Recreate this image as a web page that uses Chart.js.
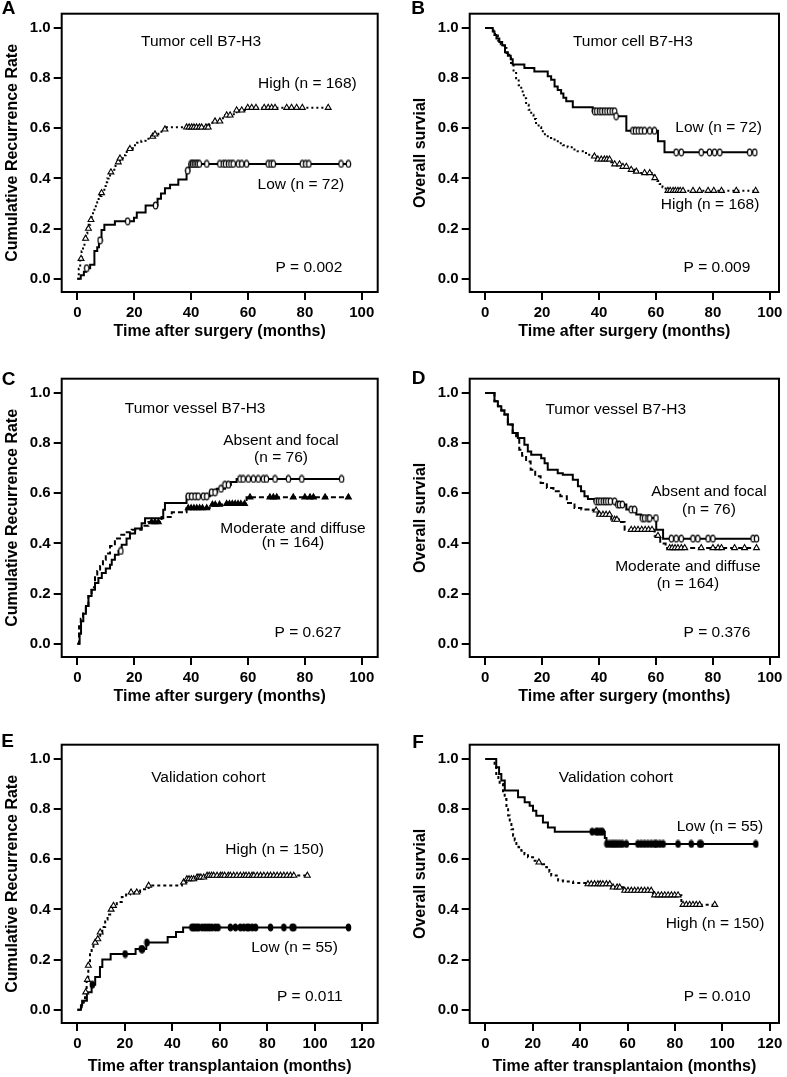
<!DOCTYPE html>
<html>
<head>
<meta charset="utf-8">
<script src="https://cdn.jsdelivr.net/npm/chart.js@4.4.1/dist/chart.umd.min.js"></script>
<style>
  html, body { margin: 0; padding: 0; background: #fff; }
  #wrap { position: relative; width: 787px; height: 1077px; overflow: hidden; background: #fff; }
  #wrap canvas { position: absolute; }
</style>
</head>
<body>
<div id="wrap">
  <canvas id="pA" width="393" height="365" style="left:0;top:0"></canvas>
  <canvas id="pB" width="394" height="365" style="left:393px;top:0"></canvas>
  <canvas id="pC" width="393" height="366" style="left:0;top:365px"></canvas>
  <canvas id="pD" width="394" height="366" style="left:393px;top:365px"></canvas>
  <canvas id="pE" width="393" height="346" style="left:0;top:731px"></canvas>
  <canvas id="pF" width="394" height="346" style="left:393px;top:731px"></canvas>
</div>
<script>
'use strict';

const FONT = '"Liberation Sans", Arial, Helvetica, sans-serif';

// ─── A: tumor cell B7-H3, cumulative recurrence ───
const aLowTime   = [0, 1.2, 2.3, 3.0, 4.5, 6.0, 7.0, 7.6, 8.5, 9.5, 13.2, 19.9, 20.9, 24.0, 28.2, 29.4, 30.8, 32.6, 35.5, 38.4, 39.4];
const aLowRate   = [0, 0.014, 0.028, 0.042, 0.056, 0.111, 0.125, 0.153, 0.194, 0.215, 0.229, 0.243, 0.264, 0.292, 0.319, 0.340, 0.361, 0.375, 0.396, 0.431, 0.458];
const aLowCensor = [3.3, 8.0, 17.7, 27.5, 38.8, 40.0, 40.5, 41.1, 41.7, 42.3, 42.9, 45.5, 50.1, 51.3, 52.1, 53.1, 54.0, 54.8, 56.6, 57.8, 59.5, 67.1, 68.1, 68.9, 79.1, 80.3, 81.4, 92.7, 95.3];
const aHighTime  = [0, 0.5, 1.0, 1.5, 2.0, 2.5, 3.0, 3.5, 4.0, 4.5, 5.0, 5.5, 6.0, 6.5, 7.0, 7.5, 8.0, 8.5, 9.0, 9.5, 10.0, 10.5, 11.0, 11.5, 12.0, 13.0, 14.0, 15.0, 16.0, 17.0, 18.0, 19.5, 21.0, 22.5, 24.0, 25.5, 27.0, 28.5, 30.0, 31.0, 46.5, 47.5, 50.5, 52.0, 55.0, 56.0, 59.5];
const aHighRate  = [0, 0.04, 0.08, 0.11, 0.135, 0.16, 0.18, 0.20, 0.215, 0.235, 0.255, 0.27, 0.285, 0.295, 0.305, 0.318, 0.33, 0.342, 0.355, 0.37, 0.385, 0.40, 0.412, 0.425, 0.435, 0.45, 0.465, 0.48, 0.492, 0.505, 0.518, 0.532, 0.542, 0.55, 0.558, 0.567, 0.576, 0.586, 0.596, 0.604, 0.616, 0.628, 0.64, 0.652, 0.664, 0.672, 0.682];
const aHighCensor = [1.3, 2.9, 3.9, 4.8, 8.5, 11.8, 14.4, 15.0, 18.5, 26.5, 27.3, 30.8, 38.4, 39.3, 40.2, 41.0, 41.9, 42.9, 43.7, 45.2, 46.0, 48.4, 50.1, 52.5, 53.7, 56.0, 57.8, 59.9, 61.3, 62.8, 65.7, 67.1, 68.3, 69.5, 73.6, 75.3, 77.1, 79.1, 88.2];

// ─── B: tumor cell B7-H3, overall survival ───
const bLowTime   = [0, 2.7, 3.3, 4.0, 5.0, 6.0, 7.0, 8.0, 9.0, 9.7, 13.8, 17.3, 22.0, 23.2, 24.4, 25.5, 26.7, 27.5, 28.5, 30.8, 37.8, 45.8, 49.6, 60.7, 63.0];
const bLowSurv   = [1.0, 0.986, 0.972, 0.958, 0.944, 0.931, 0.903, 0.889, 0.875, 0.854, 0.840, 0.826, 0.808, 0.794, 0.767, 0.753, 0.739, 0.722, 0.708, 0.684, 0.668, 0.648, 0.590, 0.548, 0.504];
const bLowCensor = [38.4, 39.2, 40.2, 41.0, 41.9, 42.8, 43.7, 44.6, 45.5, 46.0, 51.9, 52.8, 53.8, 54.8, 56.0, 57.8, 59.5, 67.1, 68.9, 75.9, 78.8, 80.6, 82.4, 92.9, 94.7];
const bHighTime  = [0, 2.5, 3.5, 4.5, 5.5, 6.5, 7.5, 8.5, 9.1, 10.0, 10.9, 11.8, 12.7, 13.6, 14.4, 15.3, 16.2, 17.0, 17.9, 18.8, 19.7, 21.0, 22.0, 23.2, 24.4, 26.0, 27.3, 29.0, 30.8, 32.5, 34.3, 36.0, 37.8, 39.0, 44.3, 45.5, 48.0, 51.3, 53.0, 54.8, 58.5, 59.5, 60.5, 61.3, 62.3, 63.4];
const bHighSurv  = [1.0, 0.99, 0.97, 0.95, 0.935, 0.92, 0.90, 0.88, 0.86, 0.83, 0.80, 0.772, 0.747, 0.72, 0.694, 0.674, 0.654, 0.637, 0.621, 0.604, 0.588, 0.572, 0.561, 0.555, 0.548, 0.540, 0.532, 0.524, 0.515, 0.508, 0.501, 0.494, 0.488, 0.476, 0.465, 0.457, 0.447, 0.435, 0.428, 0.422, 0.412, 0.402, 0.39, 0.378, 0.365, 0.351];
const bHighCensor = [38.4, 39.6, 40.8, 41.9, 42.8, 43.7, 45.5, 47.2, 48.4, 49.6, 51.3, 53.1, 56.0, 57.8, 59.6, 64.2, 65.0, 66.0, 66.8, 67.7, 68.5, 69.5, 73.0, 75.3, 78.3, 80.3, 83.0, 88.2, 95.0];

// ─── C: tumor vessel B7-H3, cumulative recurrence ───
const cAbsTime   = [0, 0.8, 1.3, 2.1, 3.0, 3.9, 5.0, 6.2, 7.4, 8.6, 10.0, 11.5, 12.1, 13.2, 14.5, 15.6, 17.3, 18.5, 20.3, 22.6, 23.8, 30.2, 30.8, 38.4, 46.6, 49.0, 51.9, 54.0, 56.0];
const cAbsRate   = [0, 0.04, 0.09, 0.12, 0.15, 0.19, 0.215, 0.242, 0.262, 0.282, 0.30, 0.315, 0.335, 0.355, 0.37, 0.395, 0.42, 0.44, 0.46, 0.48, 0.50, 0.534, 0.561, 0.588, 0.604, 0.618, 0.634, 0.645, 0.657];
const cAbsCensor = [15.3, 39.0, 40.2, 41.4, 42.5, 44.3, 45.5, 47.2, 48.4, 50.5, 51.9, 53.1, 57.2, 58.3, 60.1, 61.9, 63.6, 65.4, 66.5, 69.5, 74.2, 78.9, 92.9];
const cModTime   = [0, 0.6, 1.2, 2.0, 3.0, 3.9, 5.0, 6.2, 7.0, 8.0, 9.0, 10.0, 11.5, 13.2, 15.0, 17.0, 19.1, 22.6, 25.0, 29.6, 33.2, 38.4, 47.2, 51.9, 59.5];
const cModRate   = [0, 0.07, 0.10, 0.125, 0.15, 0.19, 0.225, 0.27, 0.29, 0.31, 0.335, 0.36, 0.39, 0.42, 0.435, 0.445, 0.455, 0.47, 0.485, 0.505, 0.524, 0.541, 0.555, 0.558, 0.584];
const cModCensor = [26.1, 27.3, 28.5, 39.0, 40.0, 41.0, 42.0, 43.0, 44.0, 45.5, 47.5, 48.5, 50.0, 52.5, 53.5, 54.5, 55.5, 56.5, 57.5, 58.8, 60.7, 67.7, 68.9, 70.1, 75.9, 80.0, 81.8, 83.0, 87.1, 95.3];

// ─── D: tumor vessel B7-H3, overall survival ───
const dAbsTime   = [0, 3.3, 4.5, 5.7, 6.8, 8.0, 9.7, 11.5, 13.8, 15.0, 16.2, 19.7, 20.9, 22.0, 25.5, 27.3, 30.8, 32.6, 33.7, 34.9, 36.1, 38.4, 46.0, 49.6, 53.1, 54.8, 60.1, 62.5];
const dAbsSurv   = [1.0, 0.967, 0.947, 0.93, 0.914, 0.874, 0.84, 0.82, 0.794, 0.767, 0.754, 0.74, 0.72, 0.694, 0.68, 0.674, 0.654, 0.628, 0.608, 0.588, 0.577, 0.568, 0.555, 0.535, 0.515, 0.501, 0.455, 0.419];
const dAbsCensor = [39.0, 39.8, 40.6, 41.5, 42.3, 43.1, 44.0, 45.5, 46.6, 47.2, 48.2, 51.3, 52.5, 55.2, 56.0, 57.2, 57.8, 60.0, 65.4, 67.1, 68.9, 73.0, 74.7, 78.3, 80.0, 94.1, 95.3];
const dModTime   = [0, 3.3, 4.5, 5.7, 6.8, 8.0, 9.7, 10.9, 12.0, 13.0, 14.4, 16.0, 17.6, 19.5, 21.7, 24.0, 26.4, 28.7, 31.4, 33.8, 37.8, 39.5, 44.3, 47.0, 49.0, 59.5, 61.5, 63.4];
const dModSurv   = [1.0, 0.967, 0.947, 0.93, 0.914, 0.874, 0.84, 0.827, 0.774, 0.75, 0.727, 0.694, 0.668, 0.641, 0.621, 0.608, 0.588, 0.561, 0.541, 0.535, 0.532, 0.515, 0.495, 0.485, 0.455, 0.431, 0.40, 0.382];
const dModCensor = [39.0, 40.2, 41.4, 42.5, 43.7, 45.5, 46.3, 51.3, 52.5, 53.7, 55.0, 56.2, 57.4, 58.6, 60.7, 64.8, 65.7, 66.7, 67.7, 68.9, 70.1, 75.9, 80.0, 81.8, 83.0, 87.6, 91.1, 95.3];

// ─── E: validation cohort, cumulative recurrence ───
const eLowTime   = [0, 1.5, 2.0, 4.0, 6.0, 7.5, 9.5, 10.5, 14.0, 24.5, 29.0, 38.0, 41.5, 44.5];
const eLowRate   = [0, 0.018, 0.036, 0.07, 0.10, 0.13, 0.17, 0.20, 0.222, 0.242, 0.268, 0.29, 0.31, 0.328];
const eLowCensor = [6.3, 20.1, 26.9, 27.4, 29.3, 48.2, 48.9, 49.6, 50.4, 51.1, 52.5, 53.6, 54.6, 55.6, 56.7, 58.1, 59.2, 64.4, 66.5, 68.6, 70.0, 71.4, 72.2, 73.6, 75.0, 81.3, 86.9, 90.4, 91.1, 114.1];
const eHighTime  = [0, 1.0, 1.8, 2.5, 3.2, 3.9, 4.6, 5.3, 6.0, 6.75, 7.5, 8.2, 9.0, 9.6, 10.5, 11.7, 12.7, 13.8, 15.2, 16.6, 18.7, 20.5, 22.2, 26.4, 30.0, 44.0, 46.1, 49.6, 53.9];
const eHighRate  = [0, 0.01, 0.02, 0.03, 0.07, 0.12, 0.176, 0.229, 0.245, 0.255, 0.268, 0.282, 0.295, 0.309, 0.33, 0.36, 0.38, 0.40, 0.415, 0.43, 0.45, 0.46, 0.468, 0.48, 0.495, 0.508, 0.521, 0.528, 0.535];
const eHighCensor = [3.5, 4.2, 4.6, 7.5, 8.6, 9.6, 14.2, 15.2, 22.6, 25.0, 30.0, 44.7, 46.1, 47.0, 48.0, 49.0, 50.4, 51.2, 52.0, 53.2, 54.6, 55.5, 56.5, 57.4, 58.8, 60.2, 61.0, 62.0, 63.5, 64.4, 65.8, 67.2, 68.6, 70.0, 71.0, 72.2, 73.5, 74.3, 75.7, 77.1, 78.5, 80.0, 81.3, 82.7, 84.1, 85.5, 86.9, 88.3, 89.7, 91.1, 96.8];

// ─── F: validation cohort, overall survival ───
const fLowTime   = [0, 4.6, 5.8, 6.75, 8.2, 13.8, 16.6, 18.7, 20.1, 21.5, 24.3, 26.4, 29.3, 50.4, 51.1];
const fLowSurv   = [1.0, 0.967, 0.94, 0.914, 0.874, 0.847, 0.827, 0.814, 0.794, 0.774, 0.747, 0.727, 0.71, 0.685, 0.661];
const fLowCensor = [45.1, 46.8, 47.5, 48.5, 49.4, 51.3, 52.5, 53.6, 54.6, 55.6, 56.7, 57.8, 59.5, 64.4, 65.8, 67.2, 68.6, 70.0, 71.4, 72.2, 73.6, 75.0, 81.3, 86.9, 90.4, 91.1, 114.1];
const fHighTime  = [0, 3.9, 4.6, 5.5, 6.05, 7.45, 8.16, 8.9, 9.6, 10.3, 11.0, 11.7, 12.4, 13.1, 14.0, 15.2, 16.5, 18.0, 20.8, 22.5, 24.0, 25.7, 27.0, 27.8, 30.7, 32.8, 37.0, 43.3, 53.2, 58.1, 70.7, 82.7];
const fHighSurv  = [1.0, 0.967, 0.94, 0.92, 0.90, 0.867, 0.84, 0.80, 0.775, 0.747, 0.72, 0.694, 0.675, 0.661, 0.648, 0.634, 0.62, 0.608, 0.594, 0.588, 0.58, 0.568, 0.55, 0.535, 0.515, 0.511, 0.505, 0.501, 0.488, 0.475, 0.457, 0.419];
const fHighCensor = [22.6, 43.3, 44.7, 46.1, 47.5, 48.5, 49.6, 51.1, 52.5, 53.9, 55.6, 56.7, 58.8, 60.2, 61.6, 63.0, 64.4, 65.8, 67.2, 68.6, 70.0, 71.4, 72.9, 74.3, 75.7, 77.1, 78.5, 79.9, 81.3, 83.4, 84.8, 86.2, 87.6, 89.0, 90.4, 96.8];

const ticks100 = [0, 20, 40, 60, 80, 100];
const ticks120 = [0, 20, 40, 60, 80, 100, 120];
const yTicks = [0, 0.2, 0.4, 0.6, 0.8, 1.0];

const yTitleRec = 'Cumulative Recurrence Rate';
const yTitleOS = 'Overall survial';
const xTitleSurg = 'Time after surgery (months)';
const xTitleTx = 'Time after transplantaion (months)';

// value of a step curve at time t
function stepAt(times, vals, t) {
  let v = vals[0];
  for (let i = 0; i < times.length; i++) if (times[i] <= t) v = vals[i];
  return v;
}

// narrow "0"-like censor mark, as in the printed figure
function ovalMark(fill) {
  const c = document.createElement('canvas');
  c.width = 7; c.height = 9;
  const g = c.getContext('2d');
  g.beginPath();
  g.ellipse(3.5, 4.5, 2.2, 3.3, 0, 0, Math.PI * 2);
  g.fillStyle = fill;
  g.fill();
  g.lineWidth = 1.2;
  g.strokeStyle = '#000';
  g.stroke();
  return c;
}
const OVAL_OPEN = ovalMark('#fff');
const OVAL_FULL = ovalMark('#000');

function curve(times, vals, censor, lineDash, marker, markerFill) {
  return { times, vals, censor, lineDash, marker, markerFill };
}

const DOT = [2, 3];
const DASH = [5, 3];
const FINE = [3, 3];

const panels = [
  { id: 'pA', letter: 'A', letterAt: [8.5, 9], box: [61.7, 13.7, 377.7, 292], xMin: -5.5, xMax: 105.6, xTicks: ticks100,
    xTitle: xTitleSurg, yTitle: yTitleRec, xTitleGap: 40,
    curves: [curve(aHighTime, aHighRate, aHighCensor, DOT, 'triangle', '#fff'),
             curve(aLowTime, aLowRate, aLowCensor, [], OVAL_OPEN)],
    notes: [['Tumor cell B7-H3', 43.5, 0.944], ['High (n = 168)', 80.9, 0.779], ['Low (n = 72)', 78.6, 0.376], ['P = 0.002', 81.4, 0.045]] },
  { id: 'pB', letter: 'B', letterAt: [25, 9], box: [76.7, 13.7, 386, 292], xMin: -5.4, xMax: 103.2, xTicks: ticks100,
    xTitle: xTitleSurg, yTitle: yTitleOS, xTitleGap: 40,
    curves: [curve(bHighTime, bHighSurv, bHighCensor, DOT, 'triangle', '#fff'),
             curve(bLowTime, bLowSurv, bLowCensor, [], OVAL_OPEN)],
    notes: [['Tumor cell B7-H3', 51.9, 0.945], ['Low (n = 72)', 82.0, 0.601], ['High (n = 168)', 79.0, 0.296], ['P = 0.009', 81.4, 0.045]] },
  { id: 'pC', letter: 'C', letterAt: [8.5, 14.5], box: [61.7, 13.7, 377.7, 292], xMin: -5.5, xMax: 105.6, xTicks: ticks100,
    xTitle: xTitleSurg, yTitle: yTitleRec, xTitleGap: 40,
    curves: [curve(cModTime, cModRate, cModCensor, DASH, 'triangle', '#000'),
             curve(cAbsTime, cAbsRate, cAbsCensor, [], OVAL_OPEN)],
    notes: [['Tumor vessel B7-H3', 41.4, 0.939], ['Absent and focal', 71.6, 0.81], ['(n = 76)', 71.6, 0.74],
            ['Moderate and diffuse', 75.8, 0.46], ['(n = 164)', 75.8, 0.403], ['P = 0.627', 81.1, 0.044]] },
  { id: 'pD', letter: 'D', letterAt: [25.5, 14], box: [76.7, 13.7, 386, 292], xMin: -5.4, xMax: 103.2, xTicks: ticks100,
    xTitle: xTitleSurg, yTitle: yTitleOS, xTitleGap: 40,
    curves: [curve(dModTime, dModSurv, dModCensor, DASH, 'triangle', '#fff'),
             curve(dAbsTime, dAbsSurv, dAbsCensor, [], OVAL_OPEN)],
    notes: [['Tumor vessel B7-H3', 45.9, 0.932], ['Absent and focal', 78.6, 0.606], ['(n = 76)', 78.6, 0.533],
            ['Moderate and diffuse', 71.2, 0.307], ['(n = 164)', 71.2, 0.241], ['P = 0.376', 81.4, 0.044]] },
  { id: 'pE', letter: 'E', letterAt: [7.5, 10.5], box: [61.7, 13.7, 377.7, 292], xMin: -6.6, xMax: 126.4, xTicks: ticks120,
    xTitle: xTitleTx, yTitle: yTitleRec, xTitleGap: 44,
    curves: [curve(eHighTime, eHighRate, eHighCensor, FINE, 'triangle', '#fff'),
             curve(eLowTime, eLowRate, eLowCensor, [], OVAL_FULL)],
    notes: [['Validation cohort', 55.1, 0.927], ['High (n = 150)', 83.0, 0.637], ['Low (n = 55)', 91.4, 0.249], ['P = 0.011', 97.8, 0.052]] },
  { id: 'pF', letter: 'F', letterAt: [25, 11.5], box: [76.7, 13.7, 386, 292], xMin: -6.6, xMax: 123.9, xTicks: ticks120,
    xTitle: xTitleTx, yTitle: yTitleOS, xTitleGap: 44,
    curves: [curve(fHighTime, fHighSurv, fHighCensor, FINE, 'triangle', '#fff'),
             curve(fLowTime, fLowSurv, fLowCensor, [], OVAL_FULL)],
    notes: [['Validation cohort', 55.1, 0.927], ['Low (n = 55)', 99.0, 0.73], ['High (n = 150)', 96.9, 0.342], ['P = 0.010', 97.8, 0.052]] },
];

function framePlugin(p) {
  return {
    id: 'frame_' + p.id,
    afterDraw(chart) {
      const { ctx, chartArea: a, scales: { x, y } } = chart;
      ctx.save();
      ctx.strokeStyle = '#000';
      ctx.lineWidth = 2;
      ctx.strokeRect(a.left, a.top, a.right - a.left, a.bottom - a.top);

      ctx.fillStyle = '#000';
      ctx.textAlign = 'center';
      ctx.textBaseline = 'middle';

      ctx.font = 'normal 15.5px ' + FONT;
      p.notes.forEach(([txt, nx, ny]) => ctx.fillText(txt, x.getPixelForValue(nx), y.getPixelForValue(ny)));

      ctx.font = 'bold 16px ' + FONT;
      ctx.fillText(p.xTitle, (a.left + a.right) / 2, a.bottom + p.xTitleGap);

      ctx.font = 'bold 19px ' + FONT;
      ctx.fillText(p.letter, p.letterAt[0], p.letterAt[1]);

      ctx.translate(a.left - 48.7, (a.top + a.bottom) / 2);
      ctx.rotate(-Math.PI / 2);
      ctx.font = 'bold 16px ' + FONT;
      ctx.fillText(p.yTitle, 0, 0);
      ctx.restore();
    },
  };
}

function buildDatasets(p) {
  const out = [];
  p.curves.forEach(c => {
    const last = c.times.length - 1;
    const end = Math.max(c.times[last], c.censor[c.censor.length - 1]);
    const pts = c.times.map((t, i) => ({ x: t, y: c.vals[i] }));
    pts.push({ x: end, y: c.vals[last] });
    out.push({
      type: 'line',
      data: pts,
      stepped: 'before',
      borderColor: '#000',
      borderWidth: 2,
      borderDash: c.lineDash,
      borderCapStyle: 'butt',
      pointRadius: 0,
      fill: false,
      order: 2,
    });
    const tri = c.marker === 'triangle';
    out.push({
      type: 'scatter',
      data: c.censor.map(t => ({ x: t, y: stepAt(c.times, c.vals, t) })),
      showLine: false,
      pointStyle: c.marker,
      pointRadius: tri ? 3.4 : 4,
      pointBorderWidth: 1.1,
      pointBorderColor: '#000',
      pointBackgroundColor: tri ? c.markerFill : '#fff',
      order: 1,
    });
  });
  return out;
}

panels.forEach(p => {
  const canvas = document.getElementById(p.id);
  const W = canvas.width, H = canvas.height;
  const tickFont = { family: FONT, size: 15, weight: 'bold' };
  new Chart(canvas.getContext('2d'), {
    data: { datasets: buildDatasets(p) },
    options: {
      responsive: false,
      animation: false,
      events: [],
      layout: { autoPadding: false, padding: { left: 0, top: p.box[1], right: W - p.box[2], bottom: 0 } },
      plugins: { legend: { display: false }, tooltip: { enabled: false } },
      scales: {
        x: {
          type: 'linear', min: p.xMin, max: p.xMax,
          afterBuildTicks: s => { s.ticks = p.xTicks.map(v => ({ value: v })); },
          afterFit: s => { s.height = H - p.box[3]; },
          grid: { drawOnChartArea: false, drawTicks: true, tickLength: 8, lineWidth: 2, color: '#000' },
          border: { display: false },
          ticks: { color: '#000', font: tickFont, padding: 4, maxRotation: 0, autoSkip: false, callback: v => String(v) },
        },
        y: {
          type: 'linear', min: -0.053, max: 1.057,
          afterBuildTicks: s => { s.ticks = yTicks.map(v => ({ value: v })); },
          afterFit: s => { s.width = p.box[0]; },
          grid: { drawOnChartArea: false, drawTicks: true, tickLength: 8, lineWidth: 2, color: '#000' },
          border: { display: false },
          ticks: { color: '#000', font: tickFont, padding: 3, autoSkip: false, callback: v => v.toFixed(1) },
        },
      },
    },
    plugins: [framePlugin(p)],
  });
});
</script>
</body>
</html>
